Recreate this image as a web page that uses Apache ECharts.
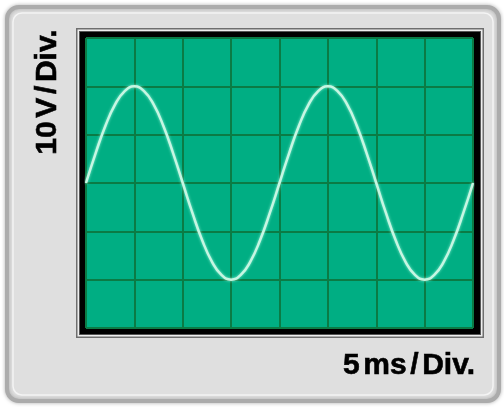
<!DOCTYPE html>
<html>
<head>
<meta charset="utf-8">
<script src="https://cdn.jsdelivr.net/npm/echarts@6/dist/echarts.min.js"></script>
<style>html,body{margin:0;padding:0;background:#fff;}#c{width:504px;height:407px;}</style>
</head>
<body>
<div id="c"></div>
<script>
// time in ms, voltage in V
const timeMs = [0,1,2,3,4,5,6,7,8,9,10,11,12,13,14,15,16,17,18,19,20,21,22,23,24,25,26,27,28,29,30,31,32,33,34,35,36,37,38,39,40];
const voltage = [0,6.2,11.8,16.2,19.0,20,19.0,16.2,11.8,6.2,0,-6.2,-11.8,-16.2,-19.0,-20,-19.0,-16.2,-11.8,-6.2,0,6.2,11.8,16.2,19.0,20,19.0,16.2,11.8,6.2,0,-6.2,-11.8,-16.2,-19.0,-20,-19.0,-16.2,-11.8,-6.2,0];
const yLabelParts = ['10', 'V', '/', 'Div.'];
const xLabelParts = ['5', 'ms', '/', 'Div.'];

const chart = echarts.init(document.getElementById('c'), null, {renderer: 'canvas'});
const pts = timeMs.map((t, i) => [t, voltage[i]]);
const richText = parts => parts.join('{s| }');
const rich = {s: {fontSize: 13, fontWeight: 'bold', fontFamily: '"Liberation Sans", Arial, sans-serif', fill: '#000'}};
const textStyle = {font: 'bold 30px "Liberation Sans", Arial, sans-serif', fill: '#000', rich: rich, stroke: '#000', lineWidth: 0.6};
chart.setOption({
  animation: false,
  backgroundColor: '#ffffff',
  graphic: [
    {type: 'rect', z: -10, shape: {x: 7, y: 7, width: 492, height: 394, r: 12}, style: {fill: '#e0e0e0', stroke: '#ababab', lineWidth: 4, shadowBlur: 4, shadowColor: 'rgba(0,0,0,0.25)'}},
    {type: 'rect', z: -9, shape: {x: 13, y: 13, width: 480, height: 382, r: 9}, style: {fill: '#dfdfdf', stroke: '#f4f4f4', lineWidth: 1.5}},
    {type: 'rect', z: -8, shape: {x: 76, y: 28, width: 408, height: 310}, style: {fill: '#6e6e6e'}},
    {type: 'rect', z: -8, shape: {x: 77.5, y: 29.5, width: 405, height: 307}, style: {fill: '#eeeeee'}},
    {type: 'rect', z: -8, shape: {x: 79, y: 31, width: 402, height: 304}, style: {fill: '#555555'}},
    {type: 'rect', z: -8, shape: {x: 80, y: 32, width: 400, height: 302}, style: {fill: '#000000'}},
    {type: 'text', z: 10, x: 48, y: 92, rotation: Math.PI / 2, style: Object.assign({text: richText(yLabelParts), align: 'center', verticalAlign: 'middle'}, textStyle)},
    {type: 'text', z: 10, x: 475, y: 366, style: Object.assign({text: richText(xLabelParts), align: 'right', verticalAlign: 'middle'}, textStyle)}
  ],
  grid: {left: 86, top: 38, width: 387, height: 290, show: true, backgroundColor: '#00ae83', borderWidth: 0},
  xAxis: {type: 'value', min: 0, max: 40, interval: 5, axisLine: {show: false}, axisTick: {show: false}, axisLabel: {show: false},
    splitLine: {show: true, lineStyle: {color: '#0b7b45', width: 2}}},
  yAxis: {type: 'value', min: -30, max: 30, interval: 10, axisLine: {show: false}, axisTick: {show: false}, axisLabel: {show: false},
    splitLine: {show: true, lineStyle: {color: '#0b7b45', width: 2}}},
  series: [{type: 'line', data: pts, smooth: true, symbol: 'none', clip: true,
    lineStyle: {color: '#c6f6e2', width: 2.5, shadowColor: 'rgba(170,255,230,0.8)', shadowBlur: 3}}]
});
</script>
</body>
</html>
